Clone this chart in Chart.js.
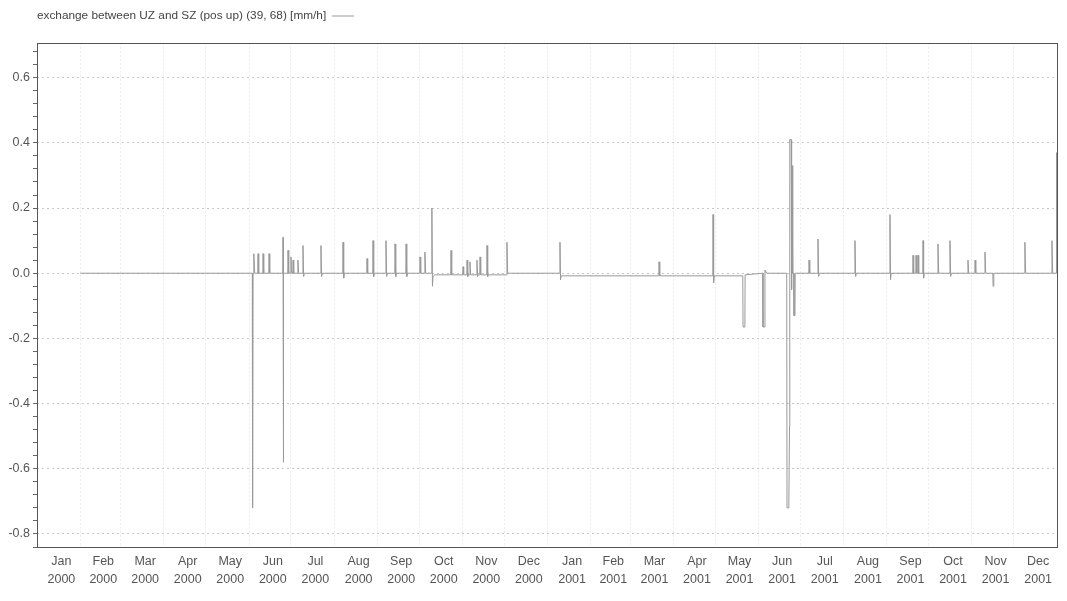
<!DOCTYPE html>
<html>
<head>
<meta charset="utf-8">
<script src="https://cdn.jsdelivr.net/npm/chart.js@4.4.1/dist/chart.umd.min.js"></script>
<style>
html,body{margin:0;padding:0;background:#fff;}
#wrap{width:1067px;height:601px;}
</style>
</head>
<body>
<div id="wrap"><canvas id="c" width="1067" height="601"></canvas></div>
<script>
// Series label
const seriesLabel = "exchange between UZ and SZ (pos up) (39, 68) [mm/h]";

// Time axis: day index counted from 1 Jan 2000
const monthStartDays = [0,31,60,91,121,152,182,213,244,274,305,335,366,397,425,456,486,517,547,578,609,639,670,700,731];
const monthNames = ["Jan","Feb","Mar","Apr","May","Jun","Jul","Aug","Sep","Oct","Nov","Dec",
                    "Jan","Feb","Mar","Apr","May","Jun","Jul","Aug","Sep","Oct","Nov","Dec"];
const monthYears = ["2000","2000","2000","2000","2000","2000","2000","2000","2000","2000","2000","2000",
                    "2001","2001","2001","2001","2001","2001","2001","2001","2001","2001","2001","2001"];

// Series: [day index, exchange value in mm/h]
const exchangePoints = [
 [31,0],[154.3,0],[154.5,-0.72],[154.8,0],
 [155.3,0],[155.5,0.06],[156,0],[158.2,0],[158.4,0.06],[158.9,0],[161.8,0],[162,0.06],[162.5,0],[166.1,0],[166.3,0.06],[166.8,0],
 [176.2,0],[176.3,0.11],[176.5,-0.58],[176.8,0],
 [179.7,0],[179.9,0.07],[180.4,0],[181.8,0],[182,0.05],[182.5,0],[183.3,0],[183.5,0.04],[184,0],[186.8,0],[187,0.04],[187.5,0],
 [190.4,0],[190.6,0.085],[191.1,-0.01],[191.6,0],
 [203.3,0],[203.5,0.085],[204,-0.01],[204.5,0],
 [219.1,0],[219.3,0.095],[219.8,-0.015],[220.3,0],
 [236.3,0],[236.5,0.045],[237,0],[240.6,0],[240.8,0.1],[241.3,-0.01],[241.8,0],
 [249.9,0],[250.1,0.1],[250.6,-0.01],[251.1,0],[256.4,0],[256.6,0.09],[257.1,-0.01],[257.6,0],[264.3,0],[264.5,0.09],[265,-0.01],[265.5,0],
 [274.3,0],[274.5,0.05],[275,0],[277.8,0],[278,0.065],[278.5,0],[282.8,0],[283,0.2],[283.4,-0.04],[283.8,-0.01],[285,-0.005],
 [296.5,-0.005],[296.7,0.07],[297.2,-0.005],[305.1,-0.005],[305.3,0.02],[305.8,-0.005],
 [308,-0.005],[308.2,0.04],[308.7,-0.01],[309.2,-0.005],[310.1,-0.005],[310.3,0.035],[310.8,-0.005],
 [315.1,-0.005],[315.3,0.04],[315.8,-0.01],[316.3,-0.005],[317.3,-0.005],[317.5,0.05],[318,-0.005],
 [322.3,-0.005],[322.5,0.085],[323,-0.01],[323.5,-0.005],[336.6,-0.005],[336.8,0.095],[337.3,0],
 [374.6,0],[374.8,0.095],[375.2,-0.02],[375.7,-0.008],
 [445.6,-0.008],[445.8,0.035],[446.3,-0.008],
 [484.3,-0.008],[484.5,0.18],[484.9,-0.03],[485.4,-0.008],
 [505.8,-0.008],[506,-0.165],[507.3,-0.165],[507.5,-0.005],
 [520.1,0],[520.3,-0.165],[521.5,-0.165],[521.7,0.01],[523,0],
 [537.3,0],[537.5,-0.72],[538.8,-0.72],[539.3,-0.47],[539.5,0.41],[540.5,0.41],[540.8,-0.05],[541.2,0.33],[541.6,0],
 [542.4,0],[542.5,-0.13],[543.2,-0.13],[543.4,0],
 [553.1,0],[553.3,0.04],[553.8,0],[559.5,0],[559.7,0.105],[560.2,-0.01],[560.7,0],
 [586,0],[586.2,0.1],[586.7,-0.01],[587.2,0],
 [611.1,0],[611.3,0.18],[611.7,-0.02],[612.2,0],
 [627.6,0],[627.8,0.055],[628.3,0],[629.8,0],[630,0.055],[630.5,0],[631.2,0],[631.4,0.055],[631.9,0],[634.8,0],[635,0.1],[635.4,-0.015],[635.9,0],
 [645.5,0],[645.7,0.09],[646.2,0],[654.1,0],[654.3,0.1],[654.8,-0.01],[655.3,0],
 [667,0],[667.2,0.04],[667.7,0],[672.1,0],[672.3,0.04],[672.8,0],[679.2,0],[679.4,0.065],[679.9,0],[685,0],[685.2,-0.04],[685.7,0],
 [707.8,0],[708,0.095],[708.5,0],[727.2,0],[727.4,0.1],[727.9,0],[730.3,0],[730.5,0.37],[730.8,0]
];

const points = exchangePoints.map(p=>({x:p[0],y:p[1]}));
const labelOffsetDays = 2;
const monthMid = monthNames.map((_,i)=>(monthStartDays[i]+monthStartDays[i+1])/2 + labelOffsetDays);

const frame = {
  id:'frame',
  afterLayout(chart){
    // shift legend so its text starts at the plot's left edge
    const lg = chart.legend;
    if (lg) { const dx = chart.chartArea.left - 10; lg.left += dx; lg.right += dx; }
  },
  afterDraw(chart){
    const a = chart.chartArea, ctx = chart.ctx;
    ctx.save();
    ctx.strokeStyle = '#555';
    ctx.lineWidth = 1;
    ctx.setLineDash([]);
    ctx.strokeRect(Math.round(a.left)+0.5, Math.round(a.top)+0.5, Math.round(a.right-a.left), Math.round(a.bottom-a.top));
    ctx.restore();
  }
};

const isMajor = v => Math.abs(v/0.2 - Math.round(v/0.2)) < 1e-6;
const FONT = 'Liberation Sans, Arial, sans-serif';

new Chart(document.getElementById('c'), {
  type:'line',
  data:{datasets:[{
    label:seriesLabel,
    data:points,
    borderColor:'#999999',
    backgroundColor:'#999999',
    borderWidth:1,
    pointRadius:0,
    tension:0,
    fill:false
  }]},
  plugins:[frame],
  options:{
    responsive:false,
    animation:false,
    devicePixelRatio:1,
    layout:{padding:{left:0,right:10,top:0,bottom:0}},
    plugins:{
      tooltip:{enabled:false},
      legend:{
        display:true,
        position:'top',
        align:'end',
        rtl:true,
        textDirection:'ltr',
        labels:{
          color:'#444',
          font:{family:FONT,size:11.8},
          boxWidth:22,
          boxHeight:1,
          padding:10,
          generateLabels(chart){
            return [{text:seriesLabel,fillStyle:'#9a9a9a',strokeStyle:'#9a9a9a',lineWidth:0,hidden:false,datasetIndex:0,fontColor:'#444'}];
          }
        }
      }
    },
    scales:{
      x:{
        type:'linear',
        min:0,max:731,
        afterBuildTicks(s){ s.ticks = monthMid.map(v=>({value:v})); },
        afterFit(s){ s.height = 54; },
        ticks:{
          autoSkip:false,
          maxRotation:0,
          padding:6,
          color:'#555',
          font:{family:FONT,size:12.5,lineHeight:1.4},
          callback(v,i){ return [monthNames[i], monthYears[i]]; }
        },
        grid:{display:false,drawTicks:false},
        border:{display:false}
      },
      xgrid:{
        type:'linear',
        position:'bottom',
        min:0,max:731,
        afterBuildTicks(s){ s.ticks = monthStartDays.slice(1,-1).map(v=>({value:v})); },
        afterFit(s){ s.height = 0; },
        ticks:{display:false},
        grid:{display:true,drawTicks:false,color:'#ebebeb',lineWidth:1},
        border:{display:false,dash:[2,2]}
      },
      xtop:{
        type:'linear',
        position:'top',
        min:0,max:731,
        afterFit(s){ s.height = 11; },
        ticks:{display:false},
        grid:{display:false,drawTicks:false},
        border:{display:false}
      },
      y:{
        type:'linear',
        min:-0.84,max:0.707,
        afterFit(s){ s.width = 37; },
        ticks:{
          stepSize:0.04,
          includeBounds:false,
          autoSkip:false,
          padding:3,
          color:'#555',
          font:{family:FONT,size:12.5},
          callback(v){ return isMajor(v) ? v.toFixed(1) : ''; }
        },
        grid:{
          drawTicks:true,
          tickLength:4,
          color(ctx){ return ctx.tick && isMajor(ctx.tick.value) ? '#c8c8c8' : 'rgba(0,0,0,0)'; },
          tickColor:'#666',
          lineWidth:1
        },
        border:{display:false,dash:[2,3]}
      }
    }
  }
});
</script>
</body>
</html>
